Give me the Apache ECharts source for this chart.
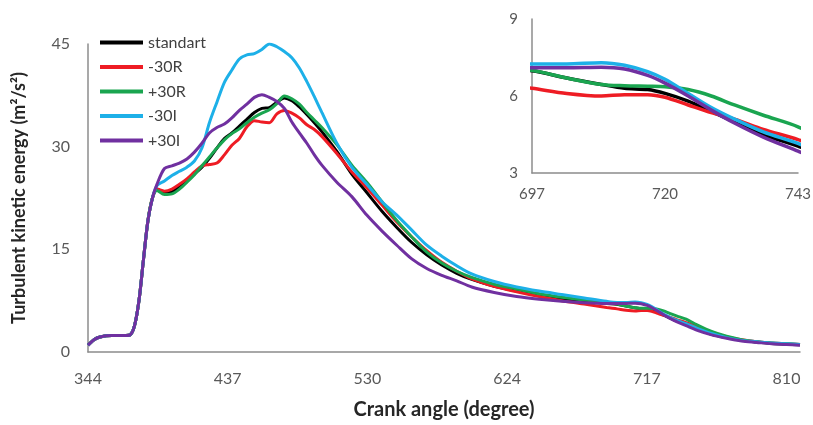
<!DOCTYPE html>
<html>
<head>
<meta charset="utf-8">
<script src="https://cdn.jsdelivr.net/npm/echarts@6/dist/echarts.min.js"></script>
<style>
html,body{margin:0;padding:0;background:#fff;}
#chart{width:813px;height:425px;}
</style>
</head>
<body>
<div id="chart"></div>
<script>
// ---- data ----
const crankAngle = [344,348,352,360,368,372,375,378,381,384,387,390,395,400,405,410,415,420,425,430,435,440,445,450,455,460,465,470,475,480,485,490,495,500,510,520,530,540,550,560,570,580,590,600,615,630,645,660,675,690,697,703,709,713,717,720,724,728,732,737,743,750,760,770,780,790,800,810,819];

const standart = [1.0,1.8,2.2,2.4,2.4,2.5,3.8,7.5,13.5,19.2,22.5,23.8,23.3,23.4,24.2,25.0,26.0,27.0,28.3,29.8,31.2,32.0,33.0,34.0,35.0,35.6,35.7,36.5,37.1,36.7,35.8,34.7,33.5,32.2,29.3,26.0,23.3,20.6,18.2,16.0,14.2,12.7,11.5,10.6,9.6,8.9,8.3,7.8,7.4,7.1,6.98,6.7,6.45,6.3,6.25,6.1,5.8,5.4,5.0,4.5,4.05,3.4,2.6,2.1,1.7,1.45,1.25,1.15,1.05];

const minus30R = [1.0,1.8,2.2,2.4,2.4,2.5,3.8,7.5,13.5,19.2,22.5,23.8,23.5,23.8,24.5,25.3,26.3,27.2,27.4,27.6,28.8,30.2,31.2,32.9,33.8,33.6,33.5,34.8,35.3,34.9,34.2,33.2,32.5,31.5,29.0,26.3,24.0,21.5,19.0,16.8,14.8,13.1,11.8,10.7,9.6,8.8,8.1,7.5,7.0,6.5,6.3,6.1,6.0,6.05,6.05,5.95,5.65,5.35,5.1,4.7,4.3,3.7,2.8,2.2,1.8,1.5,1.3,1.2,1.1];

const plus30R = [1.0,1.8,2.2,2.4,2.4,2.5,3.8,7.5,13.5,19.2,22.5,23.6,23.0,23.1,23.8,24.8,25.9,27.2,28.5,29.8,31.0,31.9,32.6,33.5,34.3,34.9,35.4,36.3,37.4,37.0,36.2,35.0,33.9,32.8,30.3,27.3,24.8,22.0,19.2,16.8,14.6,13.0,11.8,10.9,9.9,9.2,8.5,8.0,7.6,7.2,7.0,6.7,6.45,6.4,6.38,6.36,6.25,6.0,5.65,5.25,4.8,4.0,3.0,2.3,1.8,1.5,1.3,1.2,1.1];

const minus30I = [1.0,1.8,2.2,2.4,2.4,2.5,3.8,7.5,13.5,19.2,22.5,24.3,25.0,25.8,26.4,27.0,27.9,29.8,33.5,36.5,39.4,41.2,42.8,43.4,43.6,44.2,45.0,44.6,43.9,43.0,41.5,39.5,37.3,35.0,30.5,27.0,24.5,22.0,20.0,17.8,15.6,14.0,12.6,11.4,10.3,9.5,8.9,8.4,7.9,7.4,7.25,7.25,7.3,7.2,6.95,6.65,6.1,5.55,5.1,4.6,4.15,3.5,2.7,2.1,1.7,1.5,1.3,1.2,1.1];

const plus30I = [1.0,1.8,2.2,2.4,2.4,2.5,3.8,7.5,13.5,19.2,22.5,24.5,26.8,27.2,27.6,28.2,29.2,30.5,32.0,32.8,33.3,34.2,35.3,36.2,37.2,37.6,37.2,36.6,35.6,33.6,32.0,30.5,28.8,27.3,24.8,22.7,20.0,17.7,15.6,13.6,12.2,11.2,10.4,9.5,8.7,8.1,7.7,7.4,7.2,7.1,7.1,7.1,7.12,7.05,6.8,6.5,6.0,5.45,4.95,4.4,3.85,3.2,2.5,2.0,1.6,1.4,1.2,1.1,1.0];

const seriesNames = ['standart','-30R','+30R','-30I','+30I'];
const mainXTicks = [344, 437.2, 530.4, 623.6, 716.8, 810];
const mainYTicks = [0, 15, 30, 45];
const insetXTicks = [697, 720, 743];
const insetYTicks = [3, 6, 9];

// ---- chart ----
const colors = ['#000000','#ee1c24','#1aa550','#1db0e8','#7030a0'];
const allValues = [standart, minus30R, plus30R, minus30I, plus30I];
const pairs = arr => crankAngle.map((x,i)=>[x, arr[i]]);
const font = 'Lato, "Liberation Sans", sans-serif';
const labelColor = '#595959';
const axisColor = '#8c8c8c';

const series = [];
allValues.forEach((arr, i) => {
  series.push({
    name: seriesNames[i], type:'line', xAxisIndex:0, yAxisIndex:0,
    data: pairs(arr), showSymbol:false, smooth:0.3,
    lineStyle:{width:3, color:colors[i]}, itemStyle:{color:colors[i]}
  });
});
allValues.forEach((arr, i) => {
  series.push({
    name: seriesNames[i], type:'line', xAxisIndex:1, yAxisIndex:1,
    data: pairs(arr), showSymbol:false, smooth:0.3, clip:true,
    lineStyle:{width:3.5, color:colors[i]}, itemStyle:{color:colors[i]}
  });
});

const chart = echarts.init(document.getElementById('chart'), null, {renderer:'canvas'});
chart.setOption({
  animation:false,
  backgroundColor:'#ffffff',
  textStyle:{fontFamily:font},
  legend:{
    data: seriesNames,
    orient:'vertical', left:95, top:29,
    icon:'rect', itemWidth:43, itemHeight:4, itemGap:7.5,
    textStyle:{fontSize:16, color:'#404040', fontFamily:font, lineHeight:17}
  },
  grid:[
    {left:88, right:13, top:44, bottom:73, outerBoundsMode:'none', containLabel:false},
    {left:532, top:19, width:266, height:154, show:false, outerBoundsMode:'none', containLabel:false}
  ],
  xAxis:[
    {type:'value', gridIndex:0, min:344, max:819,
     axisLine:{show:true, lineStyle:{color:axisColor, width:1.5}},
     axisTick:{show:false},
     splitLine:{show:false},
     axisLabel:{customValues:mainXTicks, formatter:v=>Math.round(v), fontSize:16, color:labelColor, margin:19, fontFamily:font},
     name:'Crank angle (degree)', nameLocation:'middle', nameGap:48,
     nameTextStyle:{fontSize:20, fontWeight:'bold', color:'#262626', fontFamily:font}
    },
    {type:'value', gridIndex:1, min:697, max:743,
     axisLine:{show:true, lineStyle:{color:axisColor, width:1.5}},
     axisTick:{show:false}, splitLine:{show:false},
     axisLabel:{customValues:insetXTicks, fontSize:15, color:labelColor, margin:14, fontFamily:font}
    }
  ],
  yAxis:[
    {type:'value', gridIndex:0, min:0, max:45, interval:15,
     axisLine:{show:true, lineStyle:{color:axisColor, width:1.5}},
     axisTick:{show:false}, splitLine:{show:false},
     axisLabel:{fontSize:16, color:labelColor, margin:18, fontFamily:font},
     name:'Turbulent kinetic energy (m²/s²)', nameLocation:'middle', nameGap:60,
     nameTextStyle:{fontSize:18, fontWeight:'bold', color:'#262626', fontFamily:font}
    },
    {type:'value', gridIndex:1, min:3, max:9, interval:3,
     axisLine:{show:true, lineStyle:{color:axisColor, width:1.5}},
     axisTick:{show:false}, splitLine:{show:false},
     axisLabel:{fontSize:15, color:labelColor, margin:14, fontFamily:font}
    }
  ],
  series: series
});
</script>
</body>
</html>
